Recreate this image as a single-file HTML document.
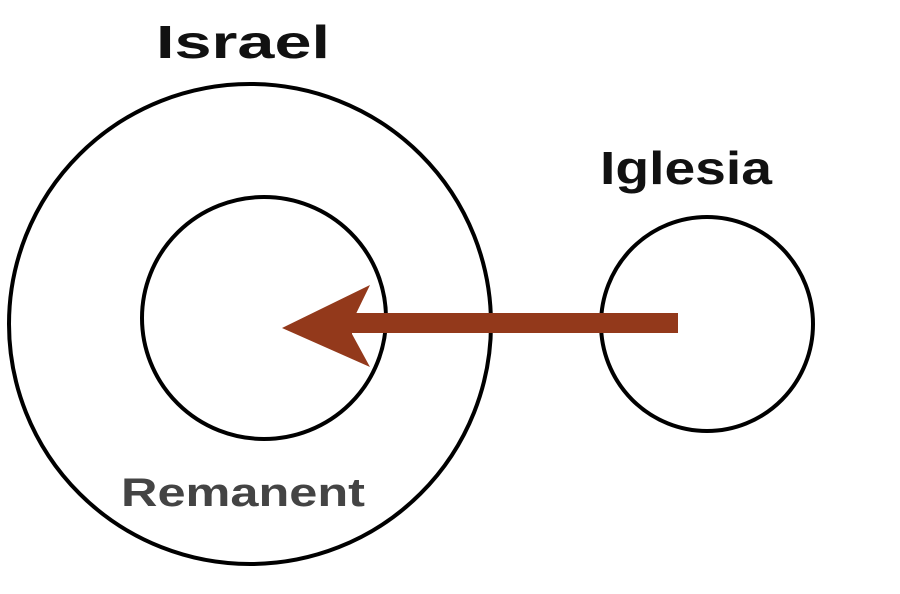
<!DOCTYPE html>
<html><head><style>body{margin:0;background:#fff}svg{display:block}</style></head><body>
<svg width="900" height="594" viewBox="0 0 900 594" xmlns="http://www.w3.org/2000/svg">
<rect width="900" height="594" fill="#fff"/>
<g fill="none" stroke="#000" stroke-width="4">
<ellipse cx="250" cy="324" rx="241" ry="240"/>
<ellipse cx="264" cy="318" rx="122" ry="121"/>
<ellipse cx="707" cy="324" rx="106" ry="107"/>
</g>
<rect x="350" y="313" width="328" height="20" fill="#93391b"/>
<polygon points="282,328 370,285 352,322 352,334 370,367" fill="#93391b"/>
<g font-family="Liberation Sans, sans-serif" font-weight="bold">
<text x="156" y="58" font-size="46" textLength="174" lengthAdjust="spacingAndGlyphs" fill="#111">Israel</text>
<text x="600" y="184" font-size="46" textLength="172" lengthAdjust="spacingAndGlyphs" fill="#111">Iglesia</text>
<text x="121" y="506" font-size="40" textLength="244" lengthAdjust="spacingAndGlyphs" fill="#444">Remanent</text>
</g>
</svg>
</body></html>
